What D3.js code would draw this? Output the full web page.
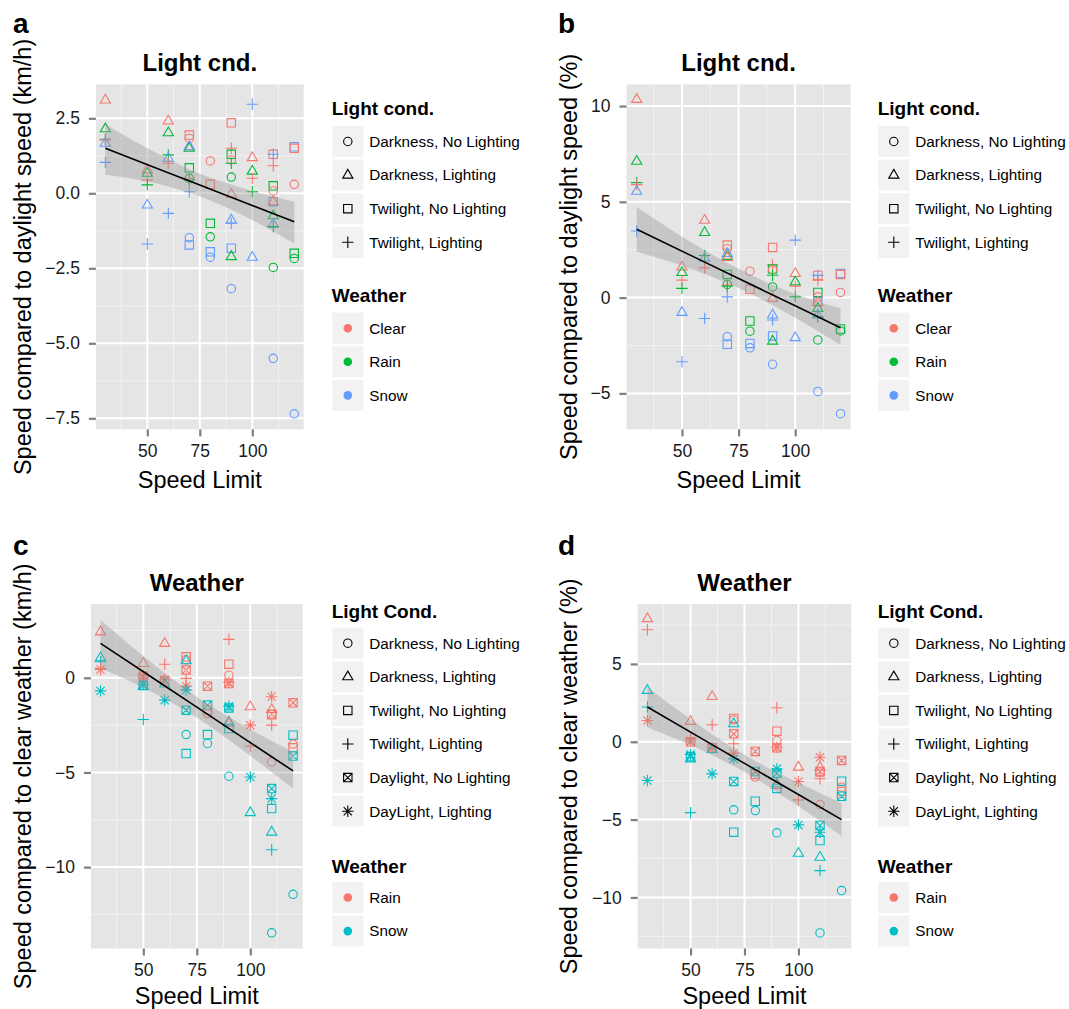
<!DOCTYPE html>
<html>
<head>
<meta charset="utf-8">
<script src="https://cdnjs.cloudflare.com/ajax/libs/d3/7.8.5/d3.min.js"></script>
<style>
    body { margin: 0; background: #fff; }
    svg text { font-family: 'Liberation Sans', Arial, Helvetica, sans-serif; }
</style>
</head>
<body>
<svg id="chart" width="1069" height="1009"></svg>
<script>
'use strict';

/*
    Data
*/

const X_TICKS = [50, 75, 100];
const X_MINOR = [37.5, 62.5, 87.5, 112.5];

// DN Darkness no lighting, DL Darkness lighting, TN Twilight no lighting,
// TL Twilight lighting, YN Daylight no lighting, YL Daylight lighting
const LIGHT_CODES = ['DN', 'DL', 'TN', 'TL', 'YN', 'YL'];
const LIGHT_LABELS_AB = ['Darkness, No Lighting', 'Darkness, Lighting',
    'Twilight, No Lighting', 'Twilight, Lighting'];
const LIGHT_LABELS_CD = ['Darkness, No Lighting', 'Darkness, Lighting',
    'Twilight, No Lighting', 'Twilight, Lighting',
    'Daylight, No Lighting', 'DayLight, Lighting'];

const WEATHER_AB = ['Clear', 'Rain', 'Snow'];
const WEATHER_CD = ['Rain', 'Snow'];

// [speed limit, weather, light cond., value]
const POINTS_A = [
    [30, 'Clear', 'DL', 3.11], [30, 'Rain', 'DL', 2.15], [30, 'Rain', 'TL', 1.8],
    [30, 'Clear', 'TL', 1.78], [30, 'Snow', 'DL', 1.67], [30, 'Snow', 'TL', 1.03],
    [50, 'Clear', 'DL', 0.78], [50, 'Rain', 'DL', 0.67], [50, 'Clear', 'TL', 0.44],
    [50, 'Rain', 'TL', 0.28], [50, 'Snow', 'DL', -0.39], [50, 'Snow', 'TL', -1.69],
    [60, 'Clear', 'DL', 2.41], [60, 'Rain', 'DL', 2.02], [60, 'Rain', 'TL', 1.28],
    [60, 'Snow', 'DL', 1.17], [60, 'Clear', 'TL', 1.0], [60, 'Snow', 'TL', -0.67],
    [70, 'Clear', 'TN', 1.94], [70, 'Clear', 'DN', 1.83], [70, 'Clear', 'DL', 1.55],
    [70, 'Rain', 'DL', 1.5], [70, 'Snow', 'DL', 1.55], [70, 'Rain', 'TN', 0.85],
    [70, 'Rain', 'DN', 0.5], [70, 'Rain', 'TL', 0.44], [70, 'Clear', 'TL', 0.5],
    [70, 'Snow', 'TL', 0.05], [70, 'Snow', 'DN', -1.48], [70, 'Snow', 'TN', -1.72],
    [80, 'Clear', 'DN', 1.08], [80, 'Clear', 'TN', 0.3], [80, 'Rain', 'TN', -1.0],
    [80, 'Rain', 'DN', -1.45], [80, 'Snow', 'TN', -1.95], [80, 'Snow', 'DN', -2.13],
    [90, 'Clear', 'TN', 2.35], [90, 'Clear', 'TL', 1.5], [90, 'Rain', 'TN', 1.3],
    [90, 'Clear', 'DN', 1.11], [90, 'Rain', 'TL', 1.0], [90, 'Rain', 'DN', 0.54],
    [90, 'Clear', 'DL', -0.03], [90, 'Snow', 'DL', -0.89], [90, 'Snow', 'TL', -1.0],
    [90, 'Snow', 'TN', -1.83], [90, 'Rain', 'DL', -2.11], [90, 'Snow', 'DN', -3.18],
    [100, 'Snow', 'TL', 2.97], [100, 'Clear', 'DL', 1.19], [100, 'Rain', 'DL', 0.74],
    [100, 'Clear', 'TL', 0.5], [100, 'Rain', 'TL', 0.05], [100, 'Snow', 'DL', -2.13],
    [110, 'Clear', 'TN', 1.3], [110, 'Snow', 'TL', 1.3], [110, 'Clear', 'TL', 0.92],
    [110, 'Rain', 'TN', 0.25], [110, 'Clear', 'DN', 0.08], [110, 'Snow', 'TN', -0.28],
    [110, 'Clear', 'DL', -0.28], [110, 'Rain', 'DL', -0.75], [110, 'Snow', 'DL', -1.03],
    [110, 'Rain', 'TL', -1.11], [110, 'Rain', 'DN', -2.47], [110, 'Snow', 'DN', -5.5],
    [120, 'Snow', 'TN', 1.55], [120, 'Clear', 'TN', 1.5], [120, 'Clear', 'DN', 0.3],
    [120, 'Rain', 'TN', -2.0], [120, 'Rain', 'DN', -2.17], [120, 'Snow', 'DN', -7.35]
];

const POINTS_B = [
    [30, 'Clear', 'DL', 10.35], [30, 'Rain', 'DL', 7.12], [30, 'Rain', 'TL', 6.0],
    [30, 'Clear', 'TL', 5.9], [30, 'Snow', 'DL', 5.55], [30, 'Snow', 'TL', 3.48],
    [50, 'Clear', 'DL', 1.6], [50, 'Rain', 'DL', 1.31], [50, 'Clear', 'TL', 0.91],
    [50, 'Rain', 'TL', 0.48], [50, 'Snow', 'DL', -0.77], [50, 'Snow', 'TL', -3.35],
    [60, 'Clear', 'DL', 4.04], [60, 'Rain', 'DL', 3.4], [60, 'Rain', 'TL', 2.2],
    [60, 'Snow', 'DL', 2.06], [60, 'Clear', 'TL', 1.55], [60, 'Snow', 'TL', -1.09],
    [70, 'Clear', 'TN', 2.74], [70, 'Clear', 'DN', 2.55], [70, 'Snow', 'DL', 2.3],
    [70, 'Rain', 'DL', 2.15], [70, 'Clear', 'DL', 2.1], [70, 'Rain', 'TN', 1.21],
    [70, 'Rain', 'DN', 0.69], [70, 'Clear', 'TL', 0.65], [70, 'Rain', 'TL', 0.6],
    [70, 'Snow', 'TL', 0.04], [70, 'Snow', 'DN', -2.04], [70, 'Snow', 'TN', -2.44],
    [80, 'Clear', 'DN', 1.38], [80, 'Clear', 'TN', 0.43], [80, 'Rain', 'TN', -1.22],
    [80, 'Rain', 'DN', -1.75], [80, 'Snow', 'TN', -2.39], [80, 'Snow', 'DN', -2.62],
    [90, 'Clear', 'TN', 2.62], [90, 'Clear', 'TL', 1.7], [90, 'Rain', 'TN', 1.49],
    [90, 'Clear', 'DN', 1.45], [90, 'Rain', 'TL', 1.17], [90, 'Rain', 'DN', 0.56],
    [90, 'Clear', 'DL', -0.04], [90, 'Snow', 'DL', -0.91], [90, 'Snow', 'TL', -1.17],
    [90, 'Snow', 'TN', -2.0], [90, 'Rain', 'DL', -2.27], [90, 'Snow', 'DN', -3.48],
    [100, 'Snow', 'TL', 3.0], [100, 'Clear', 'DL', 1.26], [100, 'Rain', 'DL', 0.82],
    [100, 'Clear', 'TL', 0.6], [100, 'Rain', 'TL', 0.04], [100, 'Snow', 'DL', -2.09],
    [110, 'Clear', 'TN', 1.16], [110, 'Snow', 'TL', 1.16], [110, 'Clear', 'TL', 0.91],
    [110, 'Rain', 'TN', 0.27], [110, 'Clear', 'DN', 0.04], [110, 'Snow', 'TN', -0.22],
    [110, 'Clear', 'DL', -0.25], [110, 'Rain', 'DL', -0.56], [110, 'Snow', 'DL', -0.9],
    [110, 'Rain', 'TL', -1.0], [110, 'Rain', 'DN', -2.21], [110, 'Snow', 'DN', -4.9],
    [120, 'Snow', 'TN', 1.26], [120, 'Clear', 'TN', 1.2], [120, 'Clear', 'DN', 0.27],
    [120, 'Rain', 'TN', -1.64], [120, 'Rain', 'DN', -1.74], [120, 'Snow', 'DN', -6.06]
];

const POINTS_C = [
    [30, 'Rain', 'DL', 2.43], [30, 'Snow', 'DL', 1.06], [30, 'Snow', 'TL', 0.85],
    [30, 'Rain', 'TL', 0.5], [30, 'Rain', 'YL', 0.44], [30, 'Snow', 'YL', -0.69],
    [50, 'Rain', 'DL', 0.76], [50, 'Rain', 'TL', 0.14], [50, 'Rain', 'YN', 0.1],
    [50, 'Rain', 'YL', 0.0], [50, 'Snow', 'YN', -0.4], [50, 'Snow', 'DL', -0.45],
    [50, 'Snow', 'YL', -0.35], [50, 'Snow', 'TL', -2.2],
    [60, 'Rain', 'DL', 1.82], [60, 'Rain', 'TL', 0.72], [60, 'Rain', 'YN', -0.16],
    [60, 'Rain', 'YL', -0.1], [60, 'Snow', 'DL', -0.33], [60, 'Snow', 'YL', -1.18],
    [70, 'Rain', 'TN', 1.11], [70, 'Rain', 'DN', 0.95], [70, 'Snow', 'DL', 0.9],
    [70, 'Rain', 'YN', 0.41], [70, 'Rain', 'TL', -0.03], [70, 'Rain', 'YL', -0.44],
    [70, 'Snow', 'YL', -0.65], [70, 'Snow', 'YN', -1.71], [70, 'Snow', 'DN', -3.0],
    [70, 'Snow', 'TN', -4.0],
    [80, 'Rain', 'YN', -0.44], [80, 'Snow', 'YN', -1.44], [80, 'Rain', 'TN', -1.7],
    [80, 'Rain', 'DN', -1.89], [80, 'Snow', 'TN', -3.0], [80, 'Snow', 'DN', -3.47],
    [90, 'Rain', 'TL', 2.03], [90, 'Rain', 'TN', 0.72], [90, 'Rain', 'DN', 0.14],
    [90, 'Rain', 'YN', -0.3], [90, 'Rain', 'YL', -0.25], [90, 'Snow', 'YL', -1.5],
    [90, 'Snow', 'YN', -1.6], [90, 'Snow', 'DL', -2.33], [90, 'Rain', 'DL', -2.4],
    [90, 'Snow', 'TN', -2.68], [90, 'Snow', 'DN', -5.2],
    [100, 'Rain', 'DL', -1.53], [100, 'Rain', 'YL', -2.5], [100, 'Rain', 'TL', -3.61],
    [100, 'Snow', 'YL', -5.24], [100, 'Snow', 'DL', -7.12],
    [110, 'Rain', 'YL', -1.0], [110, 'Rain', 'DL', -1.67], [110, 'Rain', 'YN', -1.92],
    [110, 'Rain', 'TN', -1.95], [110, 'Rain', 'TL', -2.5], [110, 'Rain', 'DN', -4.44],
    [110, 'Snow', 'YN', -5.85], [110, 'Snow', 'YL', -6.38], [110, 'Snow', 'TN', -6.91],
    [110, 'Snow', 'DL', -8.15], [110, 'Snow', 'TL', -9.08], [110, 'Snow', 'DN', -13.47],
    [120, 'Rain', 'YN', -1.32], [120, 'Snow', 'TN', -3.03], [120, 'Rain', 'DN', -3.5],
    [120, 'Rain', 'TN', -3.7], [120, 'Snow', 'YN', -4.13], [120, 'Snow', 'DN', -11.44]
];

const POINTS_D = [
    [30, 'Rain', 'DL', 7.91], [30, 'Rain', 'TL', 7.2], [30, 'Snow', 'DL', 3.3],
    [30, 'Snow', 'TL', 2.23], [30, 'Rain', 'YL', 1.37], [30, 'Snow', 'YL', -2.49],
    [50, 'Rain', 'DL', 1.31], [50, 'Rain', 'TL', 0.2], [50, 'Rain', 'YL', 0.05],
    [50, 'Rain', 'YN', 0.0], [50, 'Snow', 'YL', -0.82], [50, 'Snow', 'DL', -1.1],
    [50, 'Snow', 'YN', -0.95], [50, 'Snow', 'TL', -4.55],
    [60, 'Rain', 'DL', 2.91], [60, 'Rain', 'TL', 1.09], [60, 'Rain', 'YN', -0.39],
    [60, 'Rain', 'YL', -0.4], [60, 'Snow', 'DL', -0.5], [60, 'Snow', 'YL', -2.06],
    [70, 'Rain', 'TN', 1.5], [70, 'Rain', 'DN', 1.4], [70, 'Snow', 'DL', 1.16],
    [70, 'Rain', 'YN', 0.51], [70, 'Rain', 'TL', -0.13], [70, 'Rain', 'YL', -0.73],
    [70, 'Snow', 'YL', -1.1], [70, 'Snow', 'YN', -2.55], [70, 'Snow', 'DN', -4.37],
    [70, 'Snow', 'TN', -5.81],
    [80, 'Rain', 'YN', -0.62], [80, 'Snow', 'YN', -1.91], [80, 'Rain', 'TN', -2.1],
    [80, 'Rain', 'DN', -2.27], [80, 'Snow', 'TN', -3.82], [80, 'Snow', 'DN', -4.42],
    [90, 'Rain', 'TL', 2.19], [90, 'Rain', 'TN', 0.68], [90, 'Rain', 'DN', 0.08],
    [90, 'Rain', 'YN', -0.39], [90, 'Rain', 'YL', -0.35], [90, 'Snow', 'YL', -1.74],
    [90, 'Snow', 'YN', -2.02], [90, 'Snow', 'DL', -2.7], [90, 'Rain', 'DL', -2.8],
    [90, 'Snow', 'TN', -3.0], [90, 'Snow', 'DN', -5.85],
    [100, 'Rain', 'DL', -1.63], [100, 'Rain', 'YL', -2.55], [100, 'Rain', 'TL', -3.73],
    [100, 'Snow', 'YL', -5.34], [100, 'Snow', 'DL', -7.16],
    [110, 'Rain', 'YL', -0.99], [110, 'Rain', 'DL', -1.63], [110, 'Rain', 'YN', -1.91],
    [110, 'Rain', 'TN', -1.95], [110, 'Rain', 'TL', -2.38], [110, 'Rain', 'DN', -4.03],
    [110, 'Snow', 'YN', -5.38], [110, 'Snow', 'YL', -5.81], [110, 'Snow', 'TN', -6.35],
    [110, 'Snow', 'DL', -7.42], [110, 'Snow', 'TL', -8.28], [110, 'Snow', 'DN', -12.28],
    [120, 'Rain', 'YN', -1.2], [120, 'Snow', 'TN', -2.53], [120, 'Rain', 'DN', -2.92],
    [120, 'Rain', 'TN', -3.2], [120, 'Snow', 'YN', -3.5], [120, 'Snow', 'DN', -9.56]
];

// Linear fit with confidence band
const FIT_X = [30, 55, 75, 100, 120];
const FIT_A      = [1.5, 0.82, 0.275, -0.405, -0.95];
const FIT_A_LOW  = [0.62, 0.32, -0.1, -0.89, -1.67];
const FIT_A_HIGH = [2.3, 1.32, 0.65, 0.08, -0.28];
const FIT_B      = [3.57, 2.14, 1.0, -0.43, -1.57];
const FIT_B_LOW  = [2.39, 1.46, 0.5, -1.05, -2.48];
const FIT_B_HIGH = [4.73, 2.82, 1.5, 0.19, -0.56];
const FIT_C      = [1.82, -0.05, -1.55, -3.42, -4.92];
const FIT_C_LOW  = [0.5, -0.8, -2.1, -4.12, -5.85];
const FIT_C_HIGH = [3.05, 0.7, -1.0, -2.72, -3.91];
const FIT_D      = [2.23, 0.22, -1.39, -3.39, -5.0];
const FIT_D_LOW  = [0.94, -0.53, -1.94, -4.14, -6.05];
const FIT_D_HIGH = [3.51, 0.97, -0.84, -2.64, -3.95];

/*
    Constants
*/

const SVG = d3.select('#chart');

const COLORS_AB = ['#F8766D', '#00BA38', '#619CFF'];
const COLORS_CD = ['#F8766D', '#00BFC4'];

const X_DOMAIN = [25.5, 124.5];

const PANELS = [
    {
        letter: 'a', letterX: 13, letterY: 33,
        left: 95.9, right: 303.7, top: 84.4, bottom: 429.4, xTitleY: 488.4,
        yDomain: [-7.87, 3.63], yTicks: [-7.5, -5, -2.5, 0, 2.5],
        yMinor: [-6.25, -3.75, -1.25, 1.25], fmt: '.1f',
        title: 'Light cnd.', yTitle: 'Speed compared to daylight speed (km/h)', yTitleX: 31,
        points: POINTS_A, fit: FIT_A, low: FIT_A_LOW, high: FIT_A_HIGH,
        weather: WEATHER_AB, colors: COLORS_AB,
        lightTitle: 'Light cond.', lights: LIGHT_LABELS_AB,
        legendX: 331.7, legendTitleY: 115, legendKeyY: 126,
        weatherTitleY: 302.3, weatherKeyY: 312.7
    },
    {
        letter: 'b', letterX: 558, letterY: 33,
        left: 626.5, right: 850.7, top: 84.4, bottom: 429.4, xTitleY: 488.4,
        yDomain: [-6.88, 11.13], yTicks: [-5, 0, 5, 10],
        yMinor: [-2.5, 2.5, 7.5], fmt: 'd',
        title: 'Light cnd.', yTitle: 'Speed compared to daylight speed (%)', yTitleX: 577,
        points: POINTS_B, fit: FIT_B, low: FIT_B_LOW, high: FIT_B_HIGH,
        weather: WEATHER_AB, colors: COLORS_AB,
        lightTitle: 'Light cond.', lights: LIGHT_LABELS_AB,
        legendX: 877.7, legendTitleY: 115, legendKeyY: 126,
        weatherTitleY: 302.3, weatherKeyY: 312.7
    },
    {
        letter: 'c', letterX: 13, letterY: 555,
        left: 90.9, right: 302.7, top: 604, bottom: 948.5, xTitleY: 1004,
        yDomain: [-14.3, 3.9], yTicks: [-10, -5, 0],
        yMinor: [-12.5, -7.5, -2.5, 2.5], fmt: 'd',
        title: 'Weather', yTitle: 'Speed compared to clear weather (km/h)', yTitleX: 31,
        points: POINTS_C, fit: FIT_C, low: FIT_C_LOW, high: FIT_C_HIGH,
        weather: WEATHER_CD, colors: COLORS_CD,
        lightTitle: 'Light Cond.', lights: LIGHT_LABELS_CD,
        legendX: 331.7, legendTitleY: 618.3, legendKeyY: 627.7,
        weatherTitleY: 872.7, weatherKeyY: 882
    },
    {
        letter: 'd', letterX: 558, letterY: 555,
        left: 637.7, right: 851.3, top: 604, bottom: 948.5, xTitleY: 1004,
        yDomain: [-13.28, 8.85], yTicks: [-10, -5, 0, 5],
        yMinor: [-12.5, -7.5, -2.5, 2.5, 7.5], fmt: 'd',
        title: 'Weather', yTitle: 'Speed compared to clear weather (%)', yTitleX: 577,
        points: POINTS_D, fit: FIT_D, low: FIT_D_LOW, high: FIT_D_HIGH,
        weather: WEATHER_CD, colors: COLORS_CD,
        lightTitle: 'Light Cond.', lights: LIGHT_LABELS_CD,
        legendX: 877.7, legendTitleY: 618.3, legendKeyY: 627.7,
        weatherTitleY: 872.7, weatherKeyY: 882
    }
];

const KEY_SIZE = 31;
const KEY_STEP = 33.6;

/*
    Functions
*/

// ggplot-like open shapes: 1, 2, 0, 3, 7, 8
function shapePath(code) {
    const p = d3.path();
    const r = 4.2;
    if (code === 'DN') {
        p.moveTo(r, 0);
        p.arc(0, 0, r, 0, 2 * Math.PI);
    } else if (code === 'DL') {
        p.moveTo(0, -5.7);
        p.lineTo(5.1, 3.0);
        p.lineTo(-5.1, 3.0);
        p.closePath();
    } else if (code === 'TN' || code === 'YN') {
        p.rect(-r, -r, 2 * r, 2 * r);
        if (code === 'YN') {
            p.moveTo(-r, -r); p.lineTo(r, r);
            p.moveTo(r, -r);  p.lineTo(-r, r);
        }
    } else {
        p.moveTo(-5.7, 0); p.lineTo(5.7, 0);
        p.moveTo(0, -5.7); p.lineTo(0, 5.7);
        if (code === 'YL') {
            p.moveTo(-4.1, -4.1); p.lineTo(4.1, 4.1);
            p.moveTo(4.1, -4.1);  p.lineTo(-4.1, 4.1);
        }
    }
    return p.toString();
}

function drawPanel(cfg) {

    const x = d3.scaleLinear().domain(X_DOMAIN).range([cfg.left, cfg.right]);
    const y = d3.scaleLinear().domain(cfg.yDomain).range([cfg.bottom, cfg.top]);
    const color = d3.scaleOrdinal().domain(cfg.weather).range(cfg.colors);

    const g = SVG.append('g');

    // Panel background and grid
    g.append('rect')
        .attr('x', cfg.left).attr('y', cfg.top)
        .attr('width', cfg.right - cfg.left).attr('height', cfg.bottom - cfg.top)
        .attr('fill', '#e5e5e5');

    g.selectAll('.xminor').data(X_MINOR).join('line')
        .attr('x1', d => x(d)).attr('x2', d => x(d))
        .attr('y1', cfg.top).attr('y2', cfg.bottom)
        .attr('stroke', '#f2f2f2').attr('stroke-width', 1);
    g.selectAll('.yminor').data(cfg.yMinor).join('line')
        .attr('y1', d => y(d)).attr('y2', d => y(d))
        .attr('x1', cfg.left).attr('x2', cfg.right)
        .attr('stroke', '#f2f2f2').attr('stroke-width', 1);
    g.selectAll('.xmajor').data(X_TICKS).join('line')
        .attr('x1', d => x(d)).attr('x2', d => x(d))
        .attr('y1', cfg.top).attr('y2', cfg.bottom)
        .attr('stroke', '#fff').attr('stroke-width', 2);
    g.selectAll('.ymajor').data(cfg.yTicks).join('line')
        .attr('y1', d => y(d)).attr('y2', d => y(d))
        .attr('x1', cfg.left).attr('x2', cfg.right)
        .attr('stroke', '#fff').attr('stroke-width', 2);

    // Points
    g.selectAll('.pt').data(cfg.points).join('path')
        .attr('transform', d => `translate(${x(d[0])},${y(d[3])})`)
        .attr('d', d => shapePath(d[2]))
        .attr('fill', 'none')
        .attr('stroke', d => color(d[1]))
        .attr('stroke-width', 1.1);

    // Fit band and line
    const fitRows = FIT_X.map((v, i) => ({ x: v, fit: cfg.fit[i], lo: cfg.low[i], hi: cfg.high[i] }));

    g.append('path')
        .datum(fitRows)
        .attr('d', d3.area().curve(d3.curveMonotoneX)
            .x(d => x(d.x)).y0(d => y(d.lo)).y1(d => y(d.hi)))
        .attr('fill', '#999').attr('fill-opacity', 0.4);

    g.append('path')
        .datum(fitRows)
        .attr('d', d3.line().x(d => x(d.x)).y(d => y(d.fit)))
        .attr('fill', 'none').attr('stroke', '#000').attr('stroke-width', 1.6);

    // Axes
    const yAxis = g.append('g')
        .attr('transform', `translate(${cfg.left},0)`)
        .call(d3.axisLeft(y).tickValues(cfg.yTicks).tickFormat(d3.format(cfg.fmt))
            .tickSize(7).tickPadding(9));
    const xAxis = g.append('g')
        .attr('transform', `translate(0,${cfg.bottom})`)
        .call(d3.axisBottom(x).tickValues(X_TICKS).tickSize(7).tickPadding(8.5));

    [yAxis, xAxis].forEach(ax => {
        ax.select('.domain').remove();
        ax.selectAll('.tick line').attr('stroke', '#7f7f7f').attr('stroke-width', 2.2);
        ax.selectAll('.tick text')
            .attr('font-size', 17.5)
            .attr('fill', '#1a1a1a')
            .style('font-family', "'Liberation Sans', Arial, sans-serif");
    });

    // Titles
    g.append('text')
        .attr('x', (cfg.left + cfg.right) / 2).attr('y', cfg.top - 13)
        .attr('text-anchor', 'middle')
        .attr('font-size', 24).attr('font-weight', 'bold')
        .text(cfg.title);

    g.append('text')
        .attr('x', cfg.letterX).attr('y', cfg.letterY)
        .attr('font-size', 28).attr('font-weight', 'bold')
        .text(cfg.letter);

    g.append('text')
        .attr('x', (cfg.left + cfg.right) / 2).attr('y', cfg.xTitleY)
        .attr('text-anchor', 'middle')
        .attr('font-size', 23.5)
        .text('Speed Limit');

    g.append('text')
        .attr('transform', `translate(${cfg.yTitleX},${(cfg.top + cfg.bottom) / 2}) rotate(-90)`)
        .attr('text-anchor', 'middle')
        .attr('font-size', 23.5)
        .text(cfg.yTitle);

    drawLegend(cfg, color);
}

function drawLegend(cfg, color) {

    const g = SVG.append('g');

    g.append('text')
        .attr('x', cfg.legendX).attr('y', cfg.legendTitleY)
        .attr('font-size', 19).attr('font-weight', 'bold')
        .text(cfg.lightTitle);

    const lightKeys = g.selectAll('.lk').data(cfg.lights).join('g')
        .attr('transform', (d, i) => `translate(${cfg.legendX + 0.6},${cfg.legendKeyY + i * KEY_STEP})`);

    lightKeys.append('rect')
        .attr('width', KEY_SIZE).attr('height', KEY_SIZE)
        .attr('fill', '#f2f2f2');
    lightKeys.append('path')
        .attr('transform', `translate(${KEY_SIZE / 2},${KEY_SIZE / 2})`)
        .attr('d', (d, i) => shapePath(LIGHT_CODES[i]))
        .attr('fill', 'none').attr('stroke', '#000').attr('stroke-width', 1.1);
    lightKeys.append('text')
        .attr('x', 37).attr('y', KEY_SIZE / 2 + 5.4)
        .attr('font-size', 15.3)
        .text(d => d);

    g.append('text')
        .attr('x', cfg.legendX).attr('y', cfg.weatherTitleY)
        .attr('font-size', 19).attr('font-weight', 'bold')
        .text('Weather');

    const weatherKeys = g.selectAll('.wk').data(cfg.weather).join('g')
        .attr('transform', (d, i) => `translate(${cfg.legendX + 0.6},${cfg.weatherKeyY + i * KEY_STEP})`);

    weatherKeys.append('rect')
        .attr('width', KEY_SIZE).attr('height', KEY_SIZE)
        .attr('fill', '#f2f2f2');
    weatherKeys.append('circle')
        .attr('cx', KEY_SIZE / 2).attr('cy', KEY_SIZE / 2).attr('r', 4.3)
        .attr('fill', d => color(d));
    weatherKeys.append('text')
        .attr('x', 37).attr('y', KEY_SIZE / 2 + 5.4)
        .attr('font-size', 15.3)
        .text(d => d);
}

/*
    D3 code
*/

PANELS.forEach(drawPanel);
</script>
</body>
</html>
